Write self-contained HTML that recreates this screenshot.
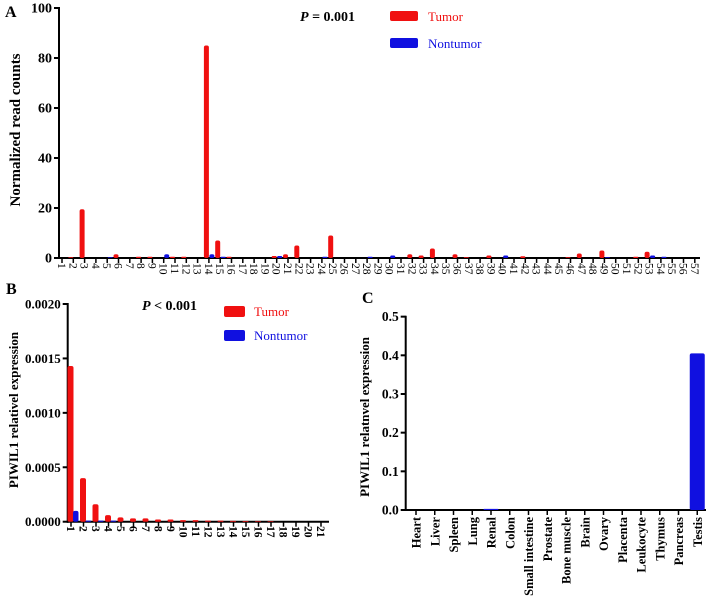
<!DOCTYPE html>
<html><head><meta charset="utf-8"><style>
body{margin:0;background:#fff}
svg{display:block;font-family:"Liberation Serif",serif}
</style></head><body>
<svg id="fig" width="709" height="603"></svg>
<script>
// ---- Panel A data ----
const catsA = Array.from({length:57},(_,i)=>String(i+1));
const tumorA = {2:0.3,3:19.5,6:1.5,8:0.5,9:0.5,11:0.5,12:0.5,14:85,15:7,16:0.5,20:0.8,21:1.5,22:5,25:9,32:1.5,33:1,34:3.8,36:1.5,37:0.3,39:1,42:0.7,46:0.3,47:1.8,49:3,52:0.5,53:2.5};
const nontumorA = {5:0.3,10:1.5,14:1.5,15:0.5,20:0.8,24:0.5,28:0.5,30:1,40:1,49:0.3,53:1,54:0.5};
const ticksA = [0,20,40,60,80,100];
// ---- Panel B data ----
const catsB = Array.from({length:21},(_,i)=>String(i+1));
const tumorB = [0.00143,0.0004,0.00016,0.00006,0.00004,0.00003,0.00003,0.00002,0.00002,0.000015,0.000015,0.00001,0.00001,0.000008,0.000006,0.000005,0.000005,0,0,0,0];
const nontumorB = [0.0001,0.00001,0.00001,0.00001,0,0,0,0,0,0,0,0,0,0,0,0,0,0,0,0,0];
const ticksB = ["0.0000","0.0005","0.0010","0.0015","0.0020"];
// ---- Panel C data ----
const catsC = ["Heart","Liver","Spleen","Lung","Renal","Colon","Small intestine","Prostate","Bone muscle","Brain","Ovary","Placenta","Leukocyte","Thymus","Pancreas","Testis"];
const valsC = [0,0,0,0,0.003,0,0,0,0,0,0,0,0,0,0,0.405];
const ticksC = ["0.0","0.1","0.2","0.3","0.4","0.5"];

const NS="http://www.w3.org/2000/svg";
const svg=document.getElementById('fig');
function mk(tag,attrs,parent,text){const e=document.createElementNS(NS,tag);for(const k in attrs)e.setAttribute(k,attrs[k]);if(text!==undefined)e.textContent=text;(parent||svg).appendChild(e);return e;}
function group(name){const g=mk('g',{});return g;}
const RED="#f01010", BLUE="#1010e0";
function bar(g,x,w,y0,y1,color,name){
  if(y0-y1<0.1)return;
  const r=mk('rect',{x:x,y:y1,width:w,height:y0-y1,fill:color,rx:Math.min(2,(y0-y1)/2)},g);
  
  
}
function axes(g,x0,xEnd,yTop,yBase,ticks,yFn,tickVals,xc,n,fs){
  mk('line',{x1:x0,y1:yTop-1,x2:x0,y2:yBase+1,stroke:'#000','stroke-width':2},g);
  mk('line',{x1:x0-1,y1:yBase,x2:xEnd,y2:yBase,stroke:'#000','stroke-width':2},g);
  ticks.forEach((t,i)=>{const y=yFn(tickVals[i]);
    mk('line',{x1:x0-5,y1:y,x2:x0,y2:y,stroke:'#000','stroke-width':2},g);
    const tl=mk('text',{x:x0-7,y:y+4.5,'text-anchor':'end','font-size':fs,'font-weight':'bold'},g,t);
    
    
  });
  for(let i=0;i<n;i++){const x=xc(i);mk('line',{x1:x,y1:yBase,x2:x,y2:yBase+5,stroke:'#000','stroke-width':1.5},g);}
}

// ===== Panel A =====
{
const g=group('panel-a');
const yA=v=>258-v*2.5, xA=i=>62+i*11.3;
axes(g,59,700,8,258,ticksA.map(String),yA,ticksA,xA,57,14);
catsA.forEach((c,i)=>{
  const tv=tumorA[i+1]||0, nv=nontumorA[i+1]||0;
  bar(g,xA(i)-5,5,258,yA(tv),RED,'tumor-bar-'+c);
  bar(g,xA(i)+0.5,5,258,yA(nv),BLUE,'nontumor-bar-'+c);
  const t=mk('text',{transform:`translate(${xA(i)-4},263) rotate(90)`,'font-size':11.5},g,c);
  
  
});
const yt=mk('text',{transform:'translate(20,130) rotate(-90)','text-anchor':'middle','font-size':15,'font-weight':'bold'},g,'Normalized read counts');

const lb=mk('text',{x:5,y:17,'font-size':16,'font-weight':'bold'},g,'A');

const p=mk('text',{x:300,y:21,'font-size':14,'font-weight':'bold'},g);
mk('tspan',{'font-style':'italic'},p,'P');mk('tspan',{},p,' = 0.001');

mk('rect',{x:390,y:11,width:28,height:10,fill:RED,rx:2},g);
mk('text',{x:428,y:21,'font-size':13,fill:RED},g,'Tumor');
mk('rect',{x:390,y:38,width:28,height:10,fill:BLUE,rx:2},g);
mk('text',{x:428,y:48,'font-size':13,fill:BLUE},g,'Nontumor');
}

// ===== Panel B =====
{
const g=group('panel-b');
const yB=v=>521.7-v*108850, xB=i=>71+i*12.5;
axes(g,67.7,329,304,521.7,ticksB,yB,ticksB.map(Number),xB,21,13);
catsB.forEach((c,i)=>{
  bar(g,xB(i)-3.5,6,521.7,yB(tumorB[i]),RED,'tumor-bar-'+c);
  bar(g,xB(i)+2,5.5,521.7,yB(nontumorB[i]),BLUE,'nontumor-bar-'+c);
  const t=mk('text',{transform:`translate(${xB(i)-4},526) rotate(90)`,'font-size':11.5,'font-weight':'bold'},g,c);
  
  
});
const yt=mk('text',{transform:'translate(18,410) rotate(-90)','text-anchor':'middle','font-size':13,'font-weight':'bold'},g,'PIWIL1 relativel expression');

const lb=mk('text',{x:6,y:294,'font-size':16,'font-weight':'bold'},g,'B');

const p=mk('text',{x:142,y:310,'font-size':14,'font-weight':'bold'},g);
mk('tspan',{'font-style':'italic'},p,'P');mk('tspan',{},p,' < 0.001');

mk('rect',{x:224,y:306,width:21,height:11,fill:RED,rx:2},g);
mk('text',{x:254,y:316,'font-size':13,fill:RED},g,'Tumor');
mk('rect',{x:224,y:330,width:21,height:11,fill:BLUE,rx:2},g);
mk('text',{x:254,y:340,'font-size':13,fill:BLUE},g,'Nontumor');
}

// ===== Panel C =====
{
const g=group('panel-c');
const yC=v=>510-v*386.7, xC=i=>416+i*18.75;
axes(g,405.7,706,316.7,510,ticksC,yC,ticksC.map(Number),xC,16,13.5);
catsC.forEach((c,i)=>{
  bar(g,xC(i)-7.5,15,510,yC(valsC[i]),BLUE,'expression-bar-'+c.toLowerCase().replace(' ','-'));
  const t=mk('text',{transform:`translate(${xC(i)+4.5},517) rotate(-90)`,'text-anchor':'end','font-size':12.5,'font-weight':'bold'},g,c);
  
  
});
const yt=mk('text',{transform:'translate(369,417) rotate(-90)','text-anchor':'middle','font-size':13,'font-weight':'bold'},g,'PIWIL1 relatnvel expression');

const lb=mk('text',{x:362,y:303,'font-size':16,'font-weight':'bold'},g,'C');

}
</script>
</body></html>
